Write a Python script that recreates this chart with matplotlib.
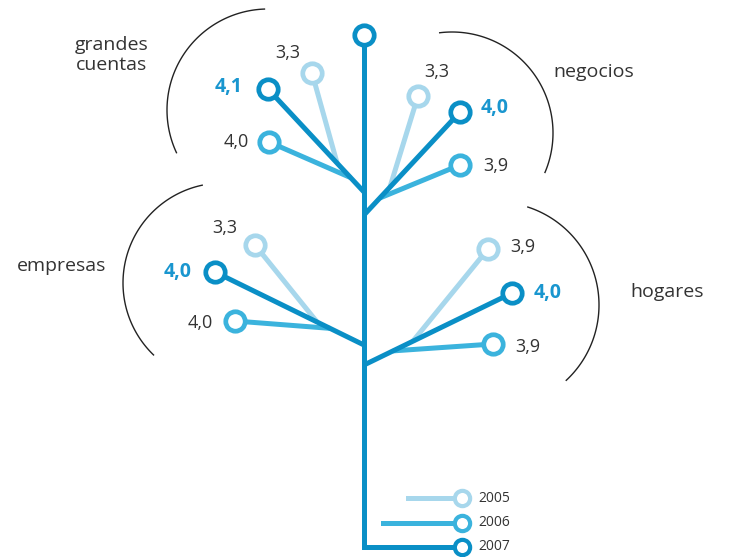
import matplotlib.pyplot as plt
import numpy as np

plt.rcParams['font.family'] = ['Open Sans', 'DejaVu Sans']

# data
years = ['2005', '2006', '2007']
segments = ['grandes\ncuentas', 'negocios', 'empresas', 'hogares']
v2005 = [3.3, 3.3, 3.3, 3.9]
v2006 = [4.0, 3.9, 4.0, 3.9]
v2007 = [4.1, 4.0, 4.0, 4.0]

light = '#a7d7ec'
mid = '#3bb3dd'
dark = '#0a8fc6'
txt = '#333333'
bold_col = '#1996cf'
colors = [light, mid, dark]

# layout, pixels with y pointing down
trunk_x = 364
trunk_top = 35
trunk_bottom = 547
join_y = [192, 215, 345, 365]
# circle centres per segment for 2005, 2006, 2007
tips = [
    [(312, 73), (269, 142), (268, 89)],
    [(418, 96), (460, 165), (460, 112)],
    [(255, 245), (235, 321), (215, 272)],
    [(488, 249), (493, 344), (512, 293)],
]
# where the 2005 / 2006 twigs meet the 2007 branch (fraction along it)
twig_t = [(0.28, 0.14), (0.27, 0.165), (0.315, 0.228), (0.33, 0.196)]
# value label positions and alignment per segment for 2005, 2006, 2007
label_pos = [
    [(288, 53, 'center'), (249, 142, 'right'), (243, 87, 'right')],
    [(437, 72, 'center'), (483, 166, 'left'), (481, 108, 'left')],
    [(225, 228, 'center'), (213, 323, 'right'), (192, 272, 'right')],
    [(510, 247, 'left'), (515, 347, 'left'), (534, 293, 'left')],
]
seg_label_pos = [(112, 55), (594, 72), (62, 266), (667, 292)]
arcs = [(268, 110, 101, 92, 205), (452, 133, 101, 97, -23),
        (223, 283, 100, 102, 226), (496, 305, 103, 72, -47)]
legend_y = [498, 523, 547]
legend_x0 = [408, 383, trunk_x]
legend_cx = 462

fig = plt.figure(figsize=(7.29, 5.57), dpi=100)
ax = fig.add_axes([0, 0, 1, 1])
ax.set_xlim(0, 729)
ax.set_ylim(557, 0)
ax.axis('off')

lw = 3.6
ms = 14
mew = 3.4

values = [v2005, v2006, v2007]


def fmt(v):
    return f'{v:.1f}'.replace('.', ',')


for i, seg in enumerate(segments):
    j = (trunk_x, join_y[i])
    d = tips[i][2]
    # twigs for 2005 and 2006
    for k in range(2):
        t = twig_t[i][k]
        base = (j[0] + t * (d[0] - j[0]), j[1] + t * (d[1] - j[1]))
        ax.plot([base[0], tips[i][k][0]], [base[1], tips[i][k][1]],
                color=colors[k], lw=lw, solid_capstyle='butt', zorder=2)
    ax.plot([j[0], d[0]], [j[1], d[1]], color=dark, lw=lw,
            solid_capstyle='butt', zorder=3)
    for k in range(3):
        ax.plot(*tips[i][k], 'o', ms=ms, mew=mew, mfc='white',
                mec=colors[k], zorder=5)
        x, y, ha = label_pos[i][k]
        if k == 2:
            ax.text(x, y, fmt(values[k][i]), ha=ha, va='center', fontsize=14,
                    fontweight='bold', color=bold_col)
        else:
            ax.text(x, y, fmt(values[k][i]), ha=ha, va='center', fontsize=13,
                    color=txt)
    # surrounding arc
    cx, cy, r, a0, a1 = arcs[i]
    a = np.radians(np.linspace(a0, a1, 100))
    ax.plot(cx + r * np.cos(a), cy - r * np.sin(a), color='#222222', lw=1.0)
    ax.text(*seg_label_pos[i], seg, ha='center', va='center', fontsize=14,
            color=txt, linespacing=1.15)

# trunk
ax.plot([trunk_x, trunk_x, legend_cx], [trunk_top, trunk_bottom, trunk_bottom],
        color=dark, lw=lw, solid_joinstyle='miter', zorder=3)
ax.plot(trunk_x, trunk_top, 'o', ms=ms, mew=mew, mfc='white', mec=dark, zorder=5)

# legend
for k, yr in enumerate(years):
    y = legend_y[k]
    if k < 2:
        ax.plot([legend_x0[k], legend_cx], [y, y], color=colors[k], lw=lw, zorder=2)
    ax.plot(legend_cx, y, 'o', ms=11, mew=3, mfc='white', mec=colors[k], zorder=5)
    ax.text(legend_cx + 16, y, yr, ha='left', va='center', fontsize=10, color=txt)

fig.savefig('out.png', dpi=100)
